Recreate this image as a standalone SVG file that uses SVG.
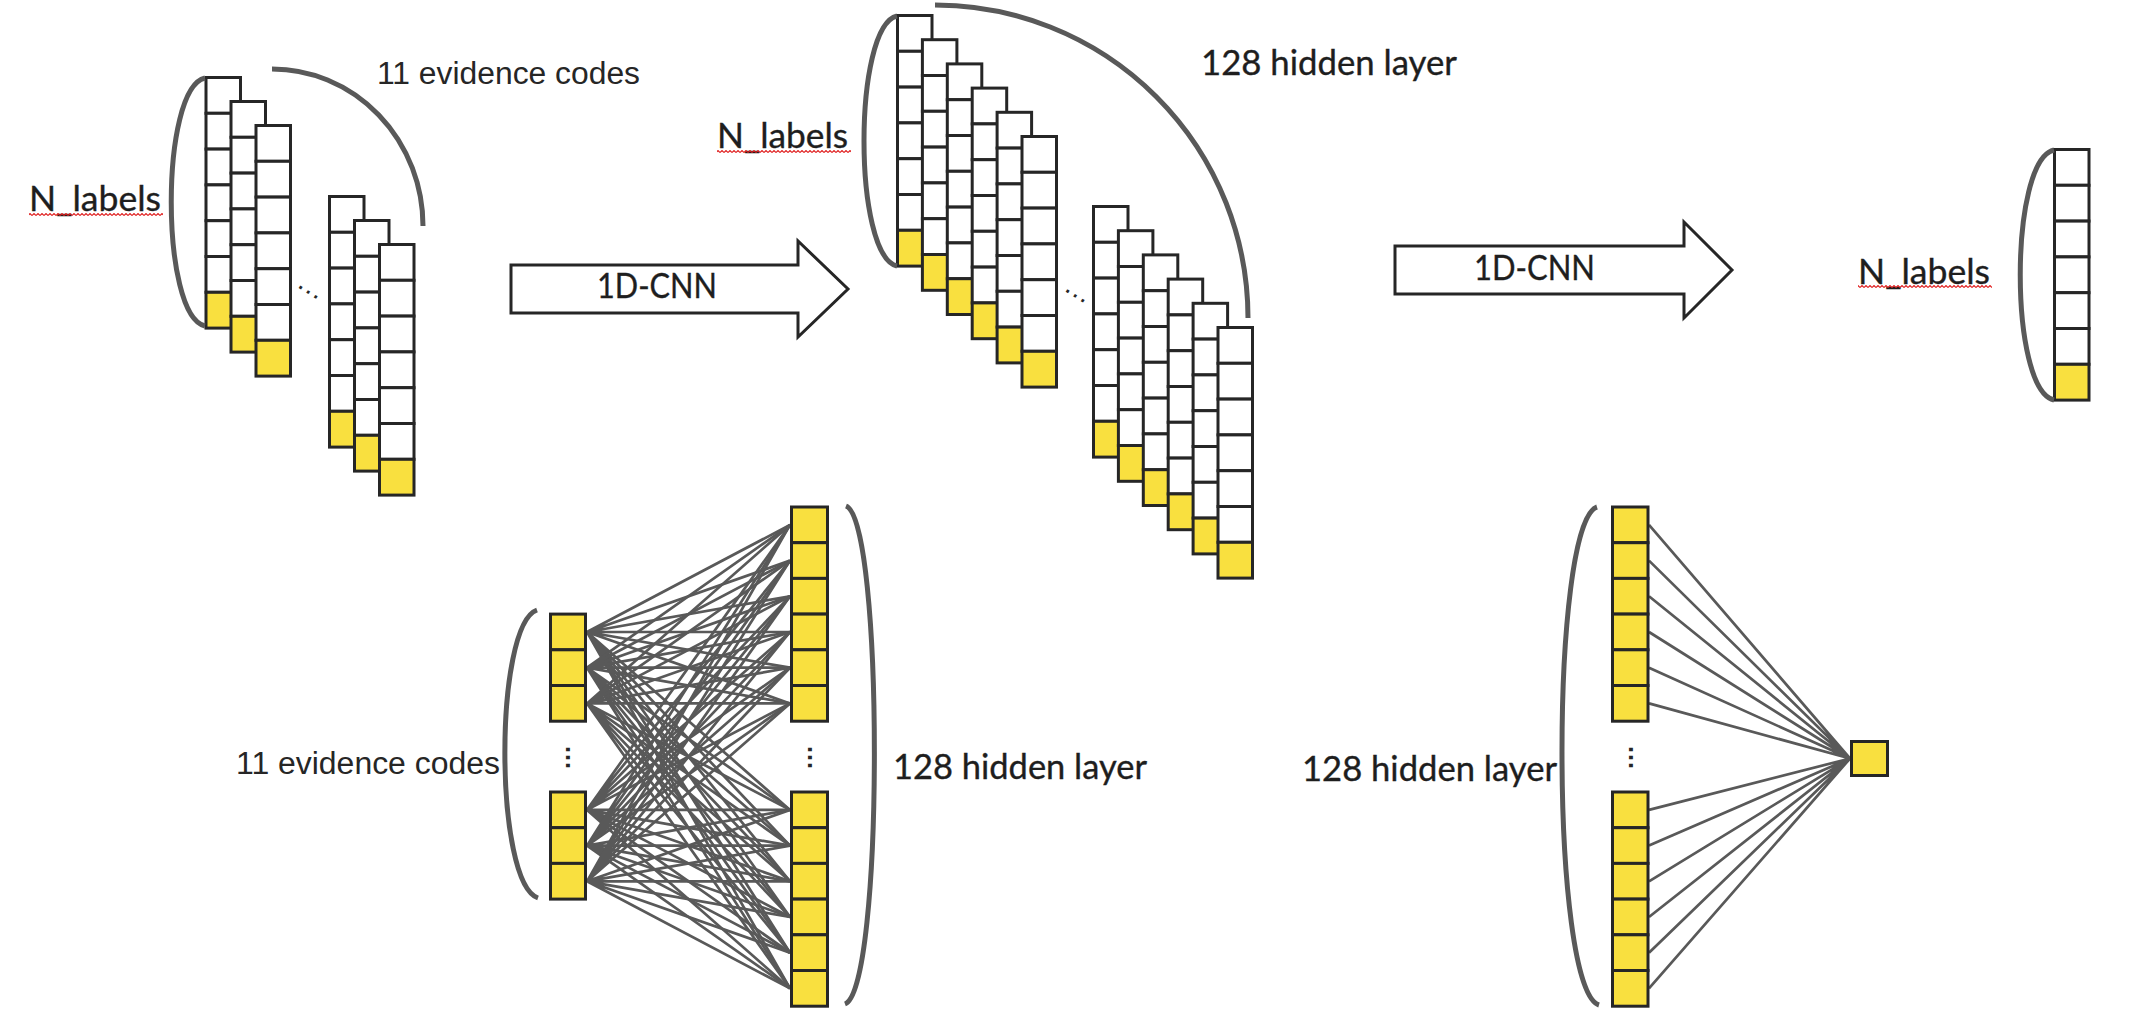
<svg xmlns="http://www.w3.org/2000/svg" width="2138" height="1030" viewBox="0 0 2138 1030">
<defs>
<style>
.w{fill:#fff;stroke:#262626;stroke-width:3}
.y{fill:#F9E03F;stroke:#262626;stroke-width:3}
.br{fill:none;stroke:#595959;stroke-width:5;stroke-linecap:butt}
.cn{fill:none;stroke:#595959;stroke-width:2.7}
.ar{fill:#fff;stroke:#262626;stroke-width:3;stroke-linejoin:miter}
.c{font-family:Lato,"Liberation Sans",sans-serif;font-size:34px;fill:#1e1e1e;stroke:#1e1e1e;stroke-width:0.35}
.a{font-family:"Liberation Sans",Arial,sans-serif;font-size:31px;fill:#262626}
.d{font-family:"Liberation Sans",sans-serif;font-size:28px;fill:#262626;text-anchor:middle}
.v{font-family:"Liberation Sans",sans-serif;font-size:25px;font-weight:bold;fill:#262626;text-anchor:middle}
.sq{fill:url(#sq)}
</style>
<pattern id="sq" width="4" height="3" patternUnits="userSpaceOnUse"><path d="M0,2.5 L2,0.5 L4,2.5" fill="none" stroke="#e02020" stroke-width="1.1"/></pattern>
<g id="col">
<rect class="w" x="0" y="0" width="34.5" height="35.8"/>
<rect class="w" x="0" y="35.8" width="34.5" height="35.8"/>
<rect class="w" x="0" y="71.6" width="34.5" height="35.8"/>
<rect class="w" x="0" y="107.4" width="34.5" height="35.8"/>
<rect class="w" x="0" y="143.2" width="34.5" height="35.8"/>
<rect class="w" x="0" y="179" width="34.5" height="35.8"/>
<rect class="y" x="0" y="214.8" width="34.5" height="35.8"/>
</g>
</defs>
<rect width="2138" height="1030" fill="#fff"/>

<g id="connectors">
<path class="cn" d="M587,632L790,524.9M587,632L790,560.6M587,632L790,596.3M587,632L790,632M587,632L790,667.7M587,632L790,703.4M587,632L790,809.9M587,632L790,845.6M587,632L790,881.3M587,632L790,917M587,632L790,952.7M587,632L790,988.4"/>
<path class="cn" d="M587,667.7L790,524.9M587,667.7L790,560.6M587,667.7L790,596.3M587,667.7L790,632M587,667.7L790,667.7M587,667.7L790,703.4M587,667.7L790,809.9M587,667.7L790,845.6M587,667.7L790,881.3M587,667.7L790,917M587,667.7L790,952.7M587,667.7L790,988.4"/>
<path class="cn" d="M587,703.4L790,524.9M587,703.4L790,560.6M587,703.4L790,596.3M587,703.4L790,632M587,703.4L790,667.7M587,703.4L790,703.4M587,703.4L790,809.9M587,703.4L790,845.6M587,703.4L790,881.3M587,703.4L790,917M587,703.4L790,952.7M587,703.4L790,988.4"/>
<path class="cn" d="M587,809.9L790,524.9M587,809.9L790,560.6M587,809.9L790,596.3M587,809.9L790,632M587,809.9L790,667.7M587,809.9L790,703.4M587,809.9L790,809.9M587,809.9L790,845.6M587,809.9L790,881.3M587,809.9L790,917M587,809.9L790,952.7M587,809.9L790,988.4"/>
<path class="cn" d="M587,845.6L790,524.9M587,845.6L790,560.6M587,845.6L790,596.3M587,845.6L790,632M587,845.6L790,667.7M587,845.6L790,703.4M587,845.6L790,809.9M587,845.6L790,845.6M587,845.6L790,881.3M587,845.6L790,917M587,845.6L790,952.7M587,845.6L790,988.4"/>
<path class="cn" d="M587,881.3L790,524.9M587,881.3L790,560.6M587,881.3L790,596.3M587,881.3L790,632M587,881.3L790,667.7M587,881.3L790,703.4M587,881.3L790,809.9M587,881.3L790,845.6M587,881.3L790,881.3M587,881.3L790,917M587,881.3L790,952.7M587,881.3L790,988.4"/>
<path class="cn" d="M1649,524.9L1850,758.5M1649,560.6L1850,758.5M1649,596.3L1850,758.5M1649,632L1850,758.5M1649,667.7L1850,758.5M1649,703.4L1850,758.5M1649,809.9L1850,758.5M1649,845.6L1850,758.5M1649,881.3L1850,758.5M1649,917L1850,758.5M1649,952.7L1850,758.5M1649,988.4L1850,758.5"/>
</g>

<g id="input-tensor">
<use href="#col" x="206" y="77.5"/>
<use href="#col" x="231" y="101.5"/>
<use href="#col" x="256" y="125.5"/>
<use href="#col" x="329.5" y="196.5"/>
<use href="#col" x="354.5" y="220.5"/>
<use href="#col" x="379.5" y="244.5"/>
<text class="d" transform="translate(308,292.3) rotate(32)" x="0" y="1.4">…</text>
<path class="br" d="M205,78 C160,88 160,316 205,326"/>
<path class="br" d="M272,69 A151,157 0 0 1 423,226"/>
<text class="c" x="29" y="211" textLength="132" lengthAdjust="spacingAndGlyphs">N_labels</text>
<rect class="sq" x="29" y="213" width="134" height="3"/>
<text class="a" x="377" y="84" textLength="263" lengthAdjust="spacingAndGlyphs">11 evidence codes</text>
</g>

<g id="arrow-1">
<polygon class="ar" points="511,265 798,265 798,241 848,289 798,337 798,313 511,313"/>
<text class="c" x="597" y="298" textLength="120" lengthAdjust="spacingAndGlyphs">1D-CNN</text>
</g>

<g id="hidden-tensor">
<use href="#col" x="897.5" y="15.5"/>
<use href="#col" x="922.4" y="39.7"/>
<use href="#col" x="947.3" y="63.9"/>
<use href="#col" x="972.2" y="88.1"/>
<use href="#col" x="997.1" y="112.3"/>
<use href="#col" x="1022" y="136.5"/>
<use href="#col" x="1093.5" y="206.5"/>
<use href="#col" x="1118.4" y="230.7"/>
<use href="#col" x="1143.3" y="254.9"/>
<use href="#col" x="1168.2" y="279.1"/>
<use href="#col" x="1193.1" y="303.3"/>
<use href="#col" x="1218" y="327.5"/>
<text class="d" transform="translate(1075,296) rotate(32)" x="0" y="1.4">…</text>
<path class="br" d="M897,16 C853,26 853,256 897,266"/>
<path class="br" d="M935,5 A313,313 0 0 1 1248,318"/>
<text class="c" x="717" y="148" textLength="131" lengthAdjust="spacingAndGlyphs">N_labels</text>
<rect class="sq" x="717" y="150" width="134" height="3"/>
<text class="c" x="1201" y="75" textLength="256" lengthAdjust="spacingAndGlyphs">128 hidden layer</text>
</g>

<g id="arrow-2">
<polygon class="ar" points="1395,246 1684,246 1684,222 1732,270 1684,318 1684,294 1395,294"/>
<text class="c" x="1474" y="280" textLength="121" lengthAdjust="spacingAndGlyphs">1D-CNN</text>
</g>

<g id="output-vector">
<use href="#col" x="2054.5" y="149.5"/>
<path class="br" d="M2054,150 C2009,160 2009,390 2054,400"/>
<text class="c" x="1858" y="284" textLength="132" lengthAdjust="spacingAndGlyphs">N_labels</text>
<rect class="sq" x="1858" y="285" width="134" height="3"/>
</g>

<g id="input-layer">
<rect class="y" x="550.5" y="614.1" width="35" height="35.7"/>
<rect class="y" x="550.5" y="649.8" width="35" height="35.7"/>
<rect class="y" x="550.5" y="685.5" width="35" height="35.7"/>
<rect class="y" x="550.5" y="792" width="35" height="35.7"/>
<rect class="y" x="550.5" y="827.7" width="35" height="35.7"/>
<rect class="y" x="550.5" y="863.4" width="35" height="35.7"/>
<text class="v" transform="translate(567.5,757.5) rotate(90)" x="0" y="1.4">…</text>
<path class="br" d="M537,610 C494,625 494,883 538,898"/>
<text class="a" x="236" y="774" textLength="264" lengthAdjust="spacingAndGlyphs">11 evidence codes</text>
</g>

<g id="hidden-layer-1">
<rect class="y" x="791.5" y="507" width="36" height="35.7"/>
<rect class="y" x="791.5" y="542.7" width="36" height="35.7"/>
<rect class="y" x="791.5" y="578.4" width="36" height="35.7"/>
<rect class="y" x="791.5" y="614.1" width="36" height="35.7"/>
<rect class="y" x="791.5" y="649.8" width="36" height="35.7"/>
<rect class="y" x="791.5" y="685.5" width="36" height="35.7"/>
<rect class="y" x="791.5" y="792" width="36" height="35.7"/>
<rect class="y" x="791.5" y="827.7" width="36" height="35.7"/>
<rect class="y" x="791.5" y="863.4" width="36" height="35.7"/>
<rect class="y" x="791.5" y="899.1" width="36" height="35.7"/>
<rect class="y" x="791.5" y="934.8" width="36" height="35.7"/>
<rect class="y" x="791.5" y="970.5" width="36" height="35.7"/>
<text class="v" transform="translate(809.5,757.5) rotate(90)" x="0" y="1.4">…</text>
<path class="br" d="M846,506 C884,520 884,990 845,1004"/>
<text class="c" x="893" y="779" textLength="254" lengthAdjust="spacingAndGlyphs">128 hidden layer</text>
</g>

<g id="hidden-layer-2">
<rect class="y" x="1612.5" y="507" width="35.5" height="35.7"/>
<rect class="y" x="1612.5" y="542.7" width="35.5" height="35.7"/>
<rect class="y" x="1612.5" y="578.4" width="35.5" height="35.7"/>
<rect class="y" x="1612.5" y="614.1" width="35.5" height="35.7"/>
<rect class="y" x="1612.5" y="649.8" width="35.5" height="35.7"/>
<rect class="y" x="1612.5" y="685.5" width="35.5" height="35.7"/>
<rect class="y" x="1612.5" y="792" width="35.5" height="35.7"/>
<rect class="y" x="1612.5" y="827.7" width="35.5" height="35.7"/>
<rect class="y" x="1612.5" y="863.4" width="35.5" height="35.7"/>
<rect class="y" x="1612.5" y="899.1" width="35.5" height="35.7"/>
<rect class="y" x="1612.5" y="934.8" width="35.5" height="35.7"/>
<rect class="y" x="1612.5" y="970.5" width="35.5" height="35.7"/>
<text class="v" transform="translate(1630.5,757.5) rotate(90)" x="0" y="1.4">…</text>
<path class="br" d="M1597,507 C1550,522 1550,990 1599,1005"/>
<text class="c" x="1302" y="781" textLength="255" lengthAdjust="spacingAndGlyphs">128 hidden layer</text>
</g>

<g id="output-node">
<rect class="y" x="1851.5" y="741.5" width="36" height="34"/>
</g>
</svg>
